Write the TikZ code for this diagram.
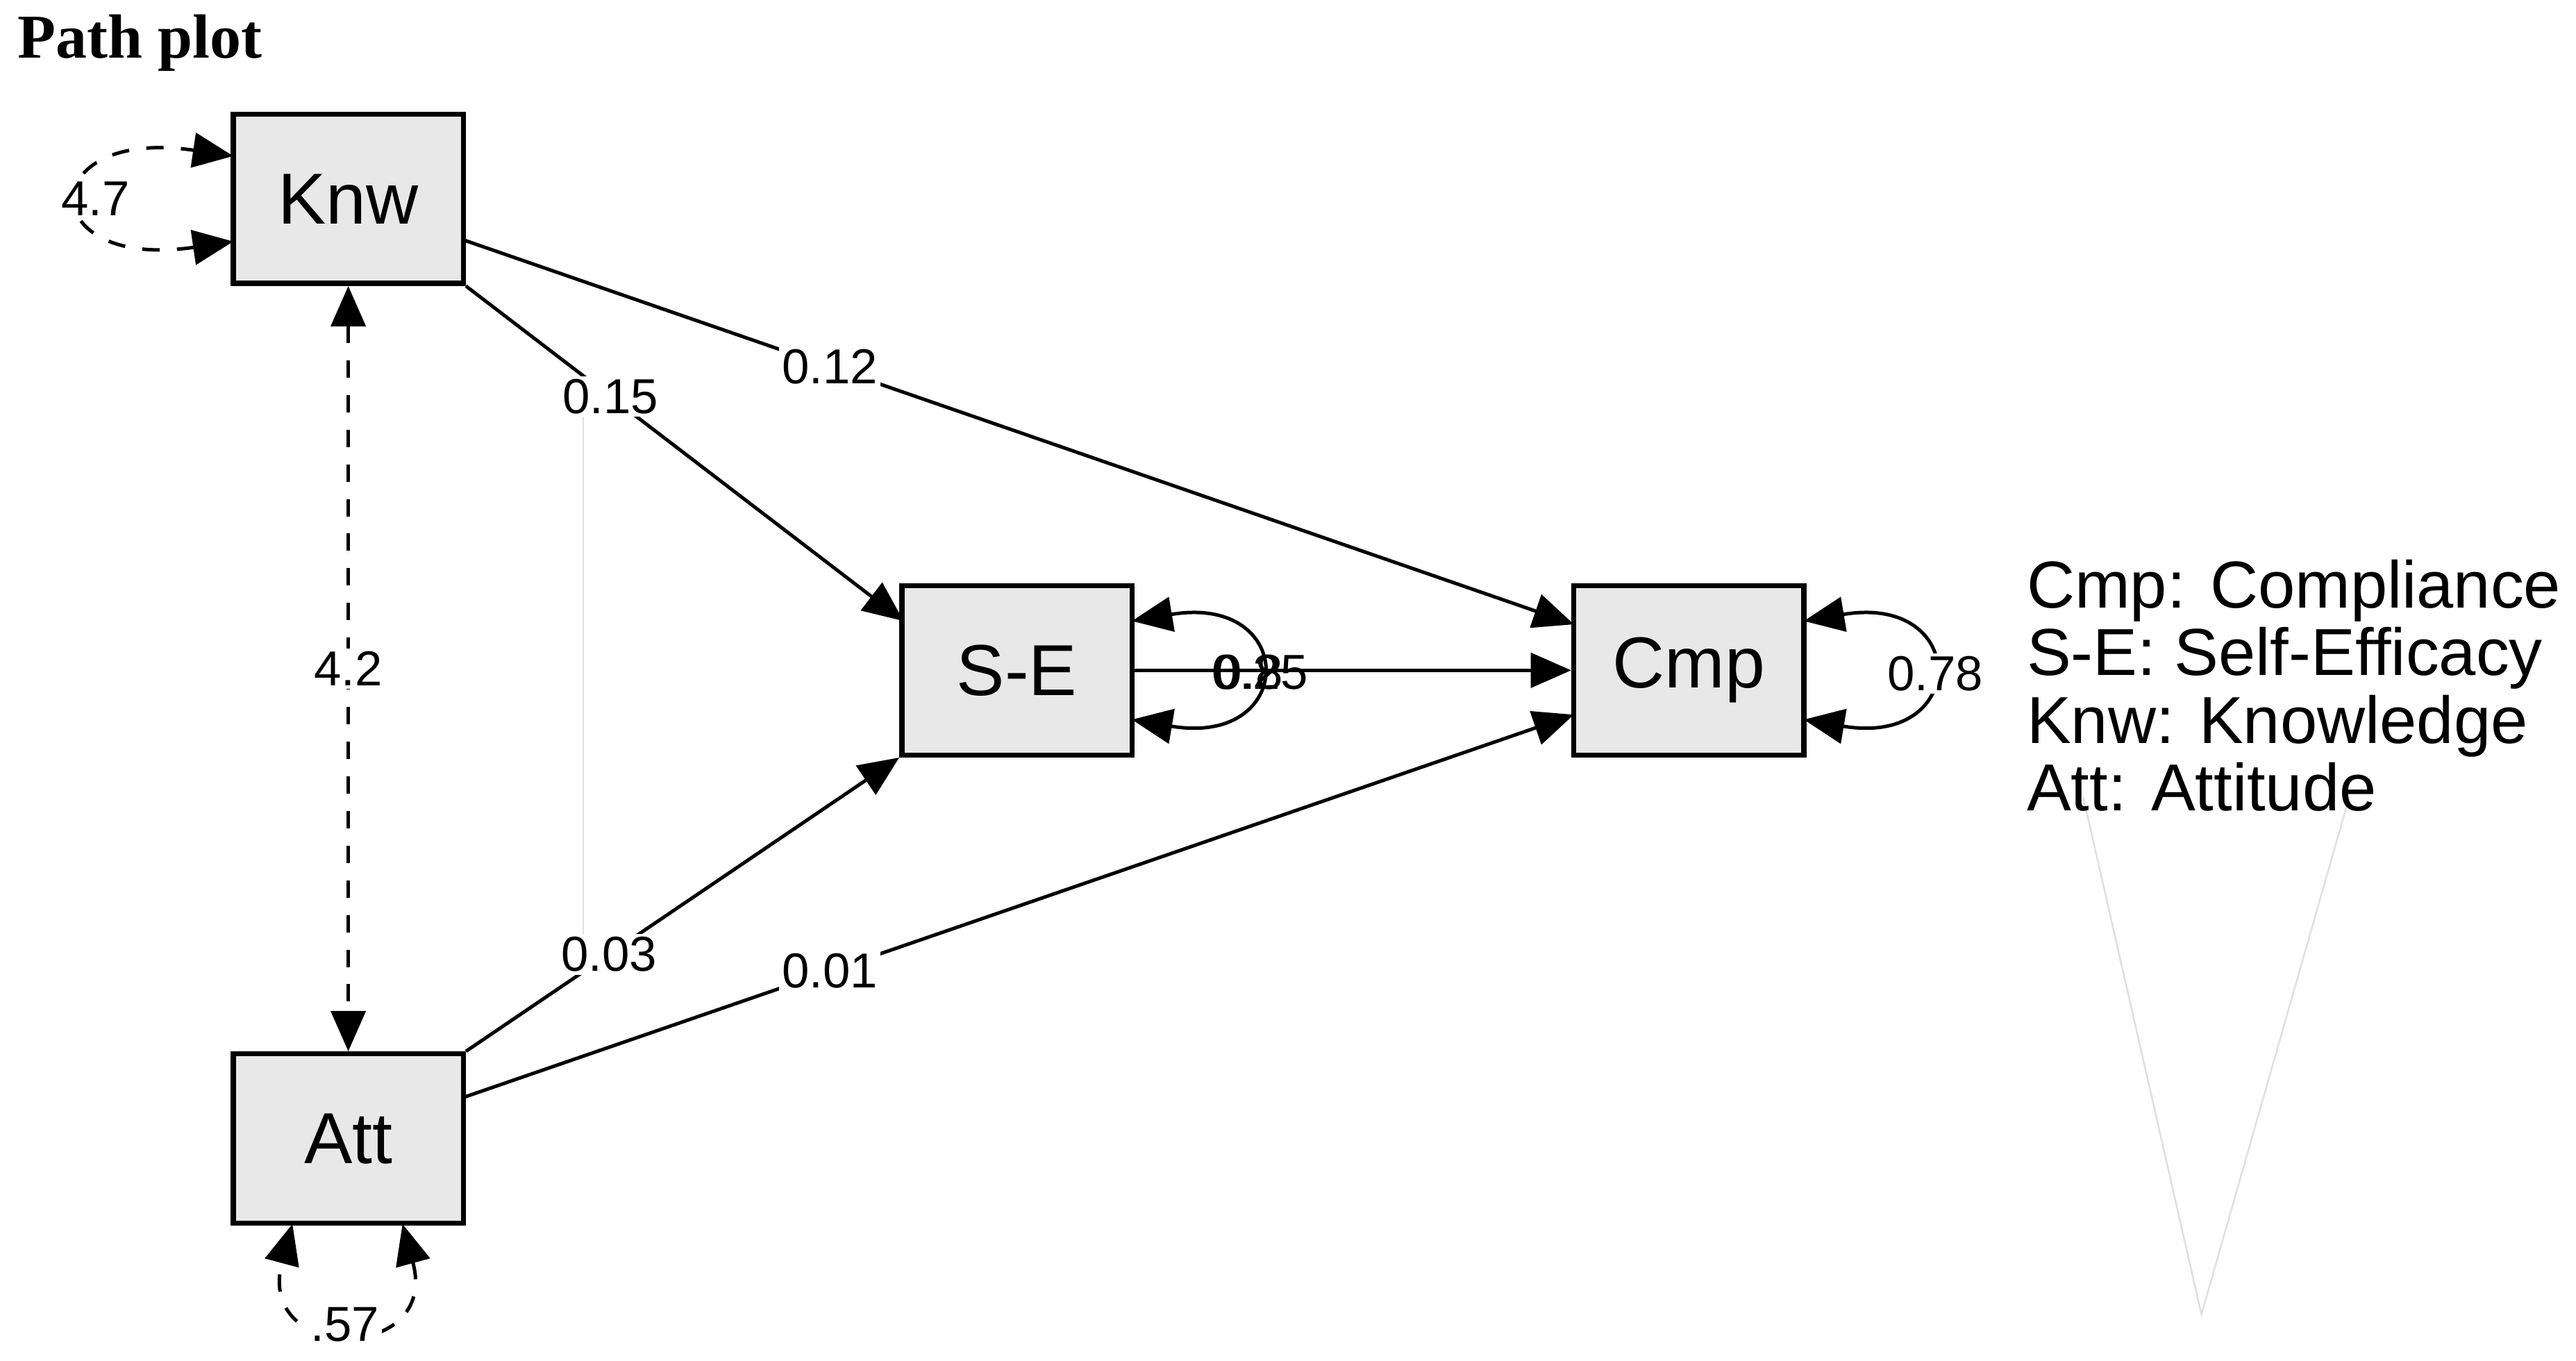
\documentclass[tikz,border=0pt]{standalone}
\usepackage{fontspec}
\setmainfont{Liberation Sans}
\newfontfamily\titlefont{Liberation Serif}
\usetikzlibrary{arrows.meta}
\definecolor{boxfill}{HTML}{E8E8E8}
\begin{document}
\begin{tikzpicture}[x=0.01cm,y=-0.01cm,
  tip/.tip={Triangle[length=7pt,width=6pt]},
  box/.style={draw,line width=0.9pt,fill=boxfill,minimum width=1.4cm,minimum height=1.03cm,font=\fontsize{12.5}{14}\selectfont},
  path/.style={line width=0.6pt,-tip},
  dpath/.style={line width=0.6pt,dashed,tip-tip},
  loop/.style={line width=0.6pt,tip-tip},
  lab/.style={font=\fontsize{8.5}{10}\selectfont,fill=white,inner sep=0.5pt},
  labn/.style={font=\fontsize{8.5}{10}\selectfont,inner sep=0.5pt}]
\useasboundingbox (0,0) rectangle (1568,828);
\node[anchor=west,font=\titlefont\bfseries\fontsize{10.8}{12}\selectfont,inner sep=0pt] (title) at (10,26) {Path plot};
% faint artefact lines
\draw[gray!25,line width=0.3pt] (355,240) -- (355,590);
\draw[gray!25,line width=0.3pt] (1268,485) -- (1340,800) -- (1430,485);
\node[box] (knw) at (212,121) {Knw};
\node[box] (att) at (212,693) {Att};
\node[box] (se) at (619,408) {S-E};
\node[box] (cmp) at (1028,408) {Cmp};
\draw[path] (knw.south east) -- (550,378) node[pos=0.33,lab]{0.15};
\draw[path] (282,146) -- (958,380) node[pos=0.33,lab]{0.12};
\draw[path] (att.north east) -- (se.south west) node[pos=0.33,lab]{0.03};
\draw[path] (282,668) -- (958,435) node[pos=0.33,lab]{0.01};
\draw[path] (se.east) -- (cmp.west);
\draw[dpath] (knw.south) -- (att.north) node[midway,lab]{4.2};
\draw[dpath] (142,147) .. controls (20,165) and (20,77) .. (142,95);
\node[lab] (l47) at (58,121) {4.7};
\draw[dpath] (245,745) .. controls (268,830) and (155,830) .. (178,745);
\node[lab] (l57) at (210,806) {.57};
\draw[loop] (689,438) .. controls (790,455) and (790,361) .. (689,378);
\draw[loop] (1098,438) .. controls (1199,455) and (1199,361) .. (1098,378);
\node[labn] (l85) at (760,409) {0.8};
\node[labn] (l25) at (767,409) {0.25};
\node[lab] (l78) at (1178,410) {0.78};
\node[anchor=north west,align=left,font=\fontsize{11.5}{10.6}\selectfont,inner sep=0pt] (legend) at (1233,340)
 {Cmp: Compliance\\S-E: Self-Efficacy\\Knw: Knowledge\\Att: Attitude};
\end{tikzpicture}
\end{document}
